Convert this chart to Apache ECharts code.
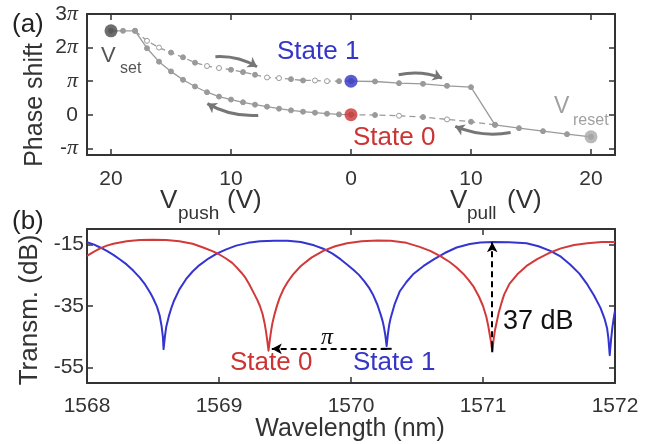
<!DOCTYPE html>
<html><head><meta charset="utf-8">
<script src="https://cdn.jsdelivr.net/npm/echarts@6/dist/echarts.min.js"></script>
<style>html,body{margin:0;padding:0;background:#fff}#c{width:663px;height:444px}</style>
</head><body><div id="c"></div>
<script>
// ---------- panel (a) data: phase shift in units of pi ----------
const pushV = [0,1,2,3,4,5,6,7,8,9,10,11,12,13,14,15,16,17,18,19,20];
const pushUpPhase = [0,0.01,0.03,0.06,0.09,0.13,0.18,0.24,0.30,0.37,0.45,0.54,0.67,0.84,1.04,1.29,1.58,1.98,2.5,2.5,2.5];
const pushDownV = [18,17,16,15,14,13,12,11,10,9,8,7,6,5,4,3,2,1,0];
const pushDownPhase = [2.5,2.2,2.0,1.85,1.71,1.55,1.45,1.39,1.34,1.27,1.19,1.11,1.09,1.06,1.02,1.02,1.0,1.0,1.0];
const pushDownOpen = [0,1,1,0,0,0,1,1,0,0,0,1,1,0,0,1,1,0,0];
const pullUpV = [0,2,4,6,8,10,12,14,16,18,20];
const pullUpPhase = [1.0,0.99,0.94,0.92,0.86,0.82,-0.30,-0.40,-0.49,-0.58,-0.66];
const pullDownV = [12,10,8,6,4,2,0];
const pullDownPhase = [-0.30,-0.21,-0.14,-0.07,-0.03,-0.01,0];
const pullDownOpen = [0,0,1,0,1,0,0];
const keyPoints = [[-20,2.5],[20,-0.66],[0,1],[0,0]];
const keyColors = ['#4a4a4a','#a8a8a8','#3535c8','#cc3434'];
const arrowPaths = [
  [[-11.3,1.73],[-7.83,1.43]],
  [[-7.73,-0.02],[-11.97,0.33]],
  [[3.97,1.19],[7.58,1.09]],
  [[13.3,-0.53],[8.69,-0.35]]
];
const voltTicks = [-20,-10,0,10,20];
const phaseTicks = [-1,0,1,2,3];
const phaseTickLabels = {'-1':'-{p|π}','0':'0','1':'{p|π}','2':'2{p|π}','3':'3{p|π}'};

// ---------- panel (b) data: transmission spectra ----------
const redWl = [1568.00,1568.05,1568.10,1568.15,1568.20,1568.30,1568.40,1568.50,1568.60,1568.70,1568.80,1568.88,1568.95,1569.00,1569.05,1569.10,1569.13,1569.17,1569.20,1569.23,1569.26,1569.29,1569.31,1569.33,1569.345,1569.355,1569.365,1569.375,1569.385,1569.395,1569.405,1569.42,1569.44,1569.46,1569.49,1569.52,1569.56,1569.62,1569.70,1569.79,1569.88,1569.97,1570.08,1570.20,1570.30,1570.42,1570.52,1570.60,1570.68,1570.75,1570.80,1570.85,1570.89,1570.93,1570.97,1571.00,1571.025,1571.04,1571.05,1571.06,1571.07,1571.08,1571.09,1571.10,1571.12,1571.14,1571.16,1571.20,1571.26,1571.33,1571.41,1571.50,1571.59,1571.69,1571.79,1571.90,1572.00];
const redDb = [-18.7,-17.4,-16.3,-15.4,-14.8,-14.0,-13.6,-13.5,-13.6,-14.0,-14.8,-16.0,-17.2,-18.2,-19.5,-21.0,-22.3,-24.2,-25.8,-28.0,-30.5,-33.0,-35.0,-37.6,-40.5,-43.0,-46.0,-49.5,-46.0,-43.0,-40.5,-37.8,-34.8,-32.3,-29.4,-27.2,-24.8,-22.0,-19.3,-17.1,-15.6,-14.6,-14.0,-13.7,-13.8,-14.5,-15.8,-17.1,-18.9,-20.8,-22.5,-24.5,-26.5,-28.8,-32.0,-35.0,-38.5,-41.5,-44.0,-46.5,-49.5,-46.0,-43.0,-41.0,-37.0,-34.0,-31.3,-27.8,-24.7,-22.0,-19.8,-17.8,-16.3,-15.2,-14.6,-14.2,-14.2];
const blueWl = [1568.00,1568.05,1568.10,1568.15,1568.20,1568.25,1568.30,1568.35,1568.40,1568.44,1568.48,1568.50,1568.53,1568.55,1568.565,1568.575,1568.58,1568.59,1568.60,1568.62,1568.64,1568.66,1568.70,1568.75,1568.80,1568.85,1568.92,1568.98,1569.05,1569.13,1569.22,1569.31,1569.42,1569.52,1569.62,1569.72,1569.79,1569.86,1569.92,1569.97,1570.02,1570.06,1570.10,1570.14,1570.17,1570.20,1570.225,1570.24,1570.25,1570.26,1570.27,1570.28,1570.29,1570.30,1570.33,1570.37,1570.42,1570.47,1570.55,1570.63,1570.71,1570.80,1570.90,1570.98,1571.08,1571.20,1571.33,1571.42,1571.51,1571.59,1571.66,1571.73,1571.79,1571.84,1571.89,1571.92,1571.94,1571.95,1571.96,1571.97,1571.98,1571.99,1572.00];
const blueDb = [-14.3,-15.0,-16.0,-17.1,-18.4,-19.9,-21.5,-23.5,-25.8,-28.0,-30.8,-32.4,-35.2,-38.0,-41.5,-45.0,-49.0,-45.0,-41.8,-38.3,-35.5,-33.2,-29.6,-26.3,-23.8,-21.8,-19.6,-18.1,-16.7,-15.4,-14.5,-14.0,-13.8,-13.8,-14.2,-15.3,-16.4,-18.0,-19.8,-21.5,-23.3,-24.9,-26.9,-29.3,-31.6,-34.6,-37.8,-40.0,-42.0,-44.5,-48.0,-44.0,-41.0,-39.0,-34.5,-30.2,-27.2,-24.7,-22.0,-19.8,-17.8,-16.0,-14.9,-14.4,-14.2,-14.3,-14.6,-15.6,-17.1,-19.0,-21.5,-24.5,-28.0,-31.5,-35.6,-39.0,-42.2,-45.5,-51.0,-46.0,-42.0,-39.0,-36.5];
const wlTicks = [1568,1569,1570,1571,1572];
const dbTicks = [-55,-35,-15];
const piArrow = [[1570.27,-48.9],[1569.40,-48.9]];
const dBArrow = [[1571.07,-48.4],[1571.07,-14.3]];

// ---------- build ----------
const FONT = 'Liberation Sans';
const AX = '#333';
const GRAY = '#9a9a9a';
function pts(vs, ps, sign, open){
  return vs.map((v,i)=>({value:[sign*v, ps[i]],
    itemStyle: (open && open[i]) ? {color:'#fff', borderColor:GRAY, borderWidth:1} : undefined}));
}
function pairs(xs, ys){ return xs.map((x,i)=>[x, ys[i]]); }
function phaseLine(data, dashed){
  return {type:'line', xAxisIndex:0, yAxisIndex:0, data, symbol:'circle', symbolSize:5, showAllSymbol:true,
    itemStyle:{color:GRAY, borderColor:GRAY, borderWidth:1},
    lineStyle:{color:GRAY, width:1.3, type: dashed ? [6,4] : 'solid'}, z:2, silent:true};
}
const axLine = {show:true, onZero:false, lineStyle:{color:AX, width:2}};
function tick(vals){ return {show:true, inside:true, length:6, lineStyle:{color:AX, width:1.5}, customValues: vals}; }
const labelFont = {color:'#333', fontFamily:FONT, fontSize:21};

const option = {
  animation:false,
  grid:[
    {left:87, right:48, top:14, height:141},
    {left:87, right:48, top:229, height:154}
  ],
  xAxis:[
    {gridIndex:0, type:'value', min:-22, max:22, position:'bottom', axisLine:axLine, axisTick:tick(voltTicks),
      splitLine:{show:false}, axisLabel:Object.assign({customValues:voltTicks, margin:14, formatter:v=>String(Math.abs(v))}, labelFont)},
    {gridIndex:0, type:'value', min:-22, max:22, position:'top', axisLine:axLine, axisTick:tick(voltTicks),
      splitLine:{show:false}, axisLabel:{show:false}},
    {gridIndex:1, type:'value', min:1568, max:1572, interval:1, position:'bottom', axisLine:axLine, axisTick:tick(wlTicks),
      splitLine:{show:false}, axisLabel:Object.assign({customValues:wlTicks, margin:13, formatter:v=>String(v)}, labelFont)},
    {gridIndex:1, type:'value', min:1568, max:1572, interval:1, position:'top', axisLine:axLine, axisTick:tick(wlTicks),
      splitLine:{show:false}, axisLabel:{show:false}}
  ],
  yAxis:[
    {gridIndex:0, type:'value', min:-1.2, max:3, position:'left', axisLine:axLine, axisTick:tick(phaseTicks),
      splitLine:{show:false},
      axisLabel:Object.assign({customValues:phaseTicks, margin:9, formatter:v=>phaseTickLabels[String(Math.round(v))],
        rich:{p:{fontFamily:'Liberation Serif', fontStyle:'italic', fontSize:22, color:'#333'}}}, labelFont)},
    {gridIndex:0, type:'value', min:-1.2, max:3, position:'right', axisLine:axLine, axisTick:tick(phaseTicks),
      splitLine:{show:false}, axisLabel:{show:false}},
    {gridIndex:1, type:'value', min:-60, max:-10, position:'left', axisLine:axLine, axisTick:tick(dbTicks),
      splitLine:{show:false}, axisLabel:Object.assign({customValues:dbTicks, margin:3}, labelFont)},
    {gridIndex:1, type:'value', min:-60, max:-10, position:'right', axisLine:axLine, axisTick:tick(dbTicks),
      splitLine:{show:false}, axisLabel:{show:false}}
  ],
  series:[
    phaseLine(pts(pushV, pushUpPhase, -1), false),
    phaseLine(pts(pushDownV, pushDownPhase, -1, pushDownOpen), true),
    phaseLine(pts(pullUpV, pullUpPhase, 1), false),
    phaseLine(pts(pullDownV, pullDownPhase, 1, pullDownOpen), true),
    {type:'scatter', xAxisIndex:0, yAxisIndex:0, symbolSize:13, z:5, silent:true,
      data: keyPoints.map((p,i)=>({value:p, itemStyle:{color:keyColors[i]}}))},
    {type:'lines', coordinateSystem:'cartesian2d', xAxisIndex:0, yAxisIndex:0, z:4, silent:true,
      symbol:['none','arrow'], symbolSize:9,
      lineStyle:{color:'#767676', width:3, curveness:0.15, opacity:1},
      data: arrowPaths.map(c=>({coords:c}))},
    {type:'line', xAxisIndex:2, yAxisIndex:2, data:pairs(blueWl, blueDb), showSymbol:false, smooth:false,
      lineStyle:{color:'#3434d0', width:2, join:'round'}, z:2, silent:true},
    {type:'line', xAxisIndex:2, yAxisIndex:2, data:pairs(redWl, redDb), showSymbol:false, smooth:false,
      lineStyle:{color:'#d23a3a', width:2, join:'round'}, z:3, silent:true,
      markLine:{silent:true, animation:false, label:{show:false},
        lineStyle:{color:'#000', width:2, type:[6,4]},
        data:[
          [{coord:piArrow[0], symbol:'rect', symbolSize:[2,10]},{coord:piArrow[1], symbol:'arrow', symbolSize:[8,10]}],
          [{coord:dBArrow[0], symbol:'rect', symbolSize:[2,10]},{coord:dBArrow[1], symbol:'arrow', symbolSize:[8,10]}]
        ]}}
  ],
  graphic:[
    {type:'text', x:12, y:25, style:{text:'(a)', font:'26px '+FONT, fill:'#222', verticalAlign:'middle'}},
    {type:'text', x:12, y:222, style:{text:'(b)', font:'26px '+FONT, fill:'#222', verticalAlign:'middle'}},
    {type:'text', x:35, y:105, rotation:Math.PI/2, style:{text:'Phase shift', font:'25px '+FONT, fill:'#333', align:'center', verticalAlign:'middle'}},
    {type:'text', x:30, y:310, rotation:Math.PI/2, style:{text:'Transm. (dB)', font:'26px '+FONT, fill:'#333', align:'center', verticalAlign:'middle'}},
    {type:'text', x:350, y:429, style:{text:'Wavelength (nm)', font:'25px '+FONT, fill:'#333', align:'center', verticalAlign:'middle'}},
    {type:'text', x:160, y:201, style:{text:'V', font:'26px '+FONT, fill:'#333', verticalAlign:'middle'}},
    {type:'text', x:178, y:214, style:{text:'push', font:'19px '+FONT, fill:'#333', verticalAlign:'middle'}},
    {type:'text', x:227, y:201, style:{text:'(V)', font:'26px '+FONT, fill:'#333', verticalAlign:'middle'}},
    {type:'text', x:450, y:201, style:{text:'V', font:'26px '+FONT, fill:'#333', verticalAlign:'middle'}},
    {type:'text', x:467, y:214, style:{text:'pull', font:'19px '+FONT, fill:'#333', verticalAlign:'middle'}},
    {type:'text', x:507, y:201, style:{text:'(V)', font:'26px '+FONT, fill:'#333', verticalAlign:'middle'}},
    {type:'text', x:101, y:56, style:{text:'V', font:'22px '+FONT, fill:'#555', verticalAlign:'middle'}},
    {type:'text', x:120, y:69, style:{text:'set', font:'16px '+FONT, fill:'#555', verticalAlign:'middle'}},
    {type:'text', x:554, y:107, style:{text:'V', font:'23px '+FONT, fill:'#a0a0a0', verticalAlign:'middle'}},
    {type:'text', x:573, y:121, style:{text:'reset', font:'16px '+FONT, fill:'#a0a0a0', verticalAlign:'middle'}},
    {type:'text', x:277, y:52, style:{text:'State 1', font:'26px '+FONT, fill:'#3535c8', verticalAlign:'middle'}},
    {type:'text', x:353, y:138, style:{text:'State 0', font:'26px '+FONT, fill:'#cc3434', verticalAlign:'middle'}},
    {type:'text', x:230, y:363, style:{text:'State 0', font:'26px '+FONT, fill:'#cc3434', verticalAlign:'middle'}},
    {type:'text', x:353, y:363, style:{text:'State 1', font:'26px '+FONT, fill:'#3535c8', verticalAlign:'middle'}},
    {type:'text', x:327, y:338, style:{text:'π', font:'italic 24px Liberation Serif', fill:'#111', align:'center', verticalAlign:'middle'}},
    {type:'text', x:503, y:322, style:{text:'37 dB', font:'27px '+FONT, fill:'#111', verticalAlign:'middle'}}
  ]
};
const chart = echarts.init(document.getElementById('c'));
chart.setOption(option);
</script></body></html>
